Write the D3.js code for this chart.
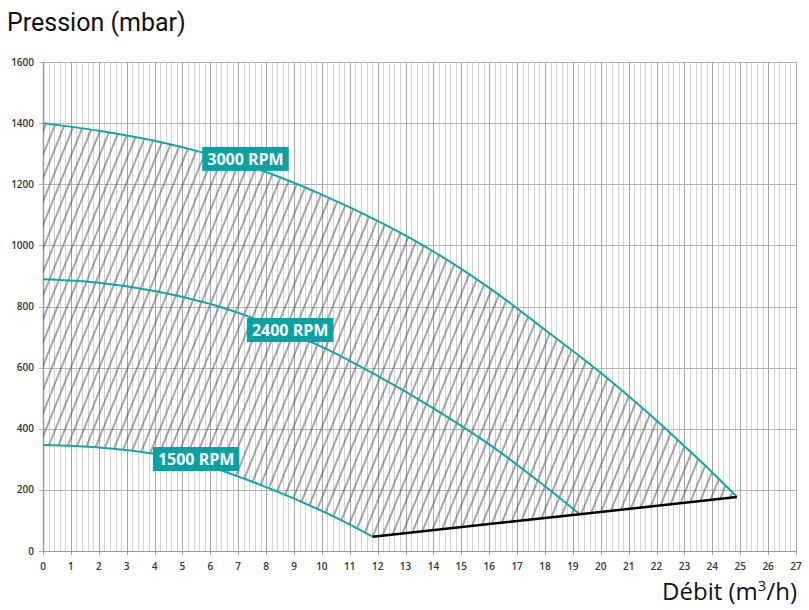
<!DOCTYPE html>
<html><head><meta charset="utf-8">
<script src="https://cdn.jsdelivr.net/npm/d3@7"></script>
<style>body{margin:0;background:#fff}</style>
</head><body>
<svg id="c" width="809" height="610"></svg>
<script>
const flow3000 = [0, 2, 4, 6, 8, 10, 12, 14, 16, 18, 20, 22, 23, 24, 24.88];
const head3000 = [1400, 1375, 1342, 1297, 1240, 1166, 1080, 980, 861, 724, 583, 427, 343, 257, 177];
const flow2400 = [0, 2, 4, 6, 8, 10, 12, 14, 16, 18, 19.25];
const head2400 = [889, 878, 851, 808, 746, 668, 573, 467, 349, 212, 120];
const flow1500 = [0, 2, 4, 6, 8, 10, 11.82];
const head1500 = [347, 339, 318, 275, 209, 131, 47];
const flowSys = [11.82, 19.25, 24.88];
const headSys = [47, 120, 177];
const labelText = ["3000 RPM", "2400 RPM", "1500 RPM"];
const labelFlow = [7.26, 8.86, 5.49];
const labelHead = [1283, 723, 301];
const xTicks = d3.range(0, 28, 1);
const yTicks = [0, 200, 400, 600, 800, 1000, 1200, 1400, 1600];

(function () {
const svg = d3.select("#c");
const x = d3.scaleLinear().domain([0, 27]).range([43, 796]);
const y = d3.scaleLinear().domain([0, 1600]).range([551, 62]);
const teal = "#12a6a6";

const minor = d3.range(0, 27.001, 0.2).filter(v => Math.abs(v - Math.round(v)) > 1e-6);
svg.append("g").selectAll("line").data(minor).join("line")
  .attr("x1", d => Math.round(x(d)) + 0.5).attr("x2", d => Math.round(x(d)) + 0.5)
  .attr("y1", y(1600)).attr("y2", y(0))
  .attr("stroke", "#d4d4d4").attr("stroke-width", 1);
svg.append("g").selectAll("line").data(yTicks).join("line")
  .attr("x1", x(0) - 4).attr("x2", x(27))
  .attr("y1", d => Math.round(y(d)) + 0.5).attr("y2", d => Math.round(y(d)) + 0.5)
  .attr("stroke", "#b4b4b4").attr("stroke-width", 1);
svg.append("g").selectAll("line").data(xTicks).join("line")
  .attr("x1", d => Math.round(x(d)) + 0.5).attr("x2", d => Math.round(x(d)) + 0.5)
  .attr("y1", y(1600)).attr("y2", y(0) + 4)
  .attr("stroke", "#a6a6a6").attr("stroke-width", 1);
svg.append("line").attr("x1", Math.round(x(0)) + 0.5).attr("x2", Math.round(x(0)) + 0.5)
  .attr("y1", y(1600)).attr("y2", y(0)).attr("stroke", "#9a9a9a").attr("stroke-width", 1.5);
svg.append("line").attr("x1", x(0)).attr("x2", x(27))
  .attr("y1", Math.round(y(0)) + 0.5).attr("y2", Math.round(y(0)) + 0.5).attr("stroke", "#9a9a9a");

svg.append("g").selectAll("text").data(yTicks).join("text")
  .attr("x", 34).attr("y", d => y(d)).attr("dy", "0.35em")
  .attr("text-anchor", "end").attr("font-family", "Open Sans").attr("font-size", 10)
  .attr("font-weight", 600).attr("fill", "#333").text(d => d);
svg.append("g").selectAll("text").data(xTicks).join("text")
  .attr("x", d => x(d)).attr("y", 566).attr("dy", "0.35em")
  .attr("text-anchor", "middle").attr("font-family", "Open Sans").attr("font-size", 10)
  .attr("font-weight", 600).attr("fill", "#333").text(d => d);

const defs = svg.append("defs");
const pat = defs.append("pattern").attr("id", "hatch").attr("patternUnits", "userSpaceOnUse")
  .attr("width", 8.8).attr("height", 20).attr("patternTransform", "rotate(22)");
pat.append("line").attr("x1", 1).attr("x2", 1).attr("y1", 0).attr("y2", 20)
  .attr("stroke", "#454545").attr("stroke-width", 0.95);

const pts = (f, h) => f.map((v, i) => [v, h[i]]);
const p3000 = pts(flow3000, head3000);
const p2400 = pts(flow2400, head2400);
const p1500 = pts(flow1500, head1500);
const pSys = pts(flowSys, headSys);

const line = d3.line().x(d => x(d[0])).y(d => y(d[1])).curve(d3.curveCatmullRom.alpha(0.5));
const upper = svg.append("path").attr("d", line(p3000)).attr("fill", "none");
const lower = svg.append("path").attr("d", line(p1500)).attr("fill", "none");
function sample(path, n) {
  const node = path.node(), L = node.getTotalLength(), out = [];
  for (let i = 0; i <= n; i++) { const p = node.getPointAtLength(L * i / n); out.push([p.x, p.y]); }
  return out;
}
const poly = sample(upper, 300)
  .concat(pSys.slice().reverse().map(d => [x(d[0]), y(d[1])]))
  .concat(sample(lower, 200).reverse());
svg.append("path").attr("d", "M" + poly.map(p => p.join(",")).join("L") + "Z")
  .attr("fill", "url(#hatch)");
upper.remove(); lower.remove();

[p3000, p2400, p1500].forEach(p => {
  svg.append("path").attr("d", line(p)).attr("fill", "none").attr("stroke", teal).attr("stroke-width", 2);
});
svg.append("path").attr("d", d3.line().x(d => x(d[0])).y(d => y(d[1]))(pSys))
  .attr("fill", "none").attr("stroke", "#000").attr("stroke-width", 2.5);

labelText.forEach((t, i) => {
  const g = svg.append("g").attr("transform", `translate(${x(labelFlow[i])},${y(labelHead[i])})`);
  const r = g.append("rect").attr("fill", "#08a2a2");
  const tx = g.append("text").attr("text-anchor", "middle").attr("dy", "0.36em")
    .attr("font-family", "Open Sans").attr("font-weight", 700).attr("font-size", 16)
    .attr("fill", "#fff").text(t);
  const w = tx.node().getComputedTextLength() + 10;
  r.attr("x", -w / 2).attr("y", -12).attr("width", w).attr("height", 24);
});

svg.append("text").attr("x", 7).attr("y", 31).attr("font-family", "Roboto")
  .attr("font-size", 25).attr("fill", "#111").text("Pression (mbar)");
const xt = svg.append("text").attr("x", 797).attr("y", 600).attr("text-anchor", "end")
  .attr("font-family", "Open Sans").attr("font-size", 24).attr("fill", "#111");
xt.append("tspan").text("Débit (m");
xt.append("tspan").attr("font-size", 15).attr("dy", -9).text("3");
xt.append("tspan").attr("dy", 9).text("/h)");
})();
</script>
</body></html>
